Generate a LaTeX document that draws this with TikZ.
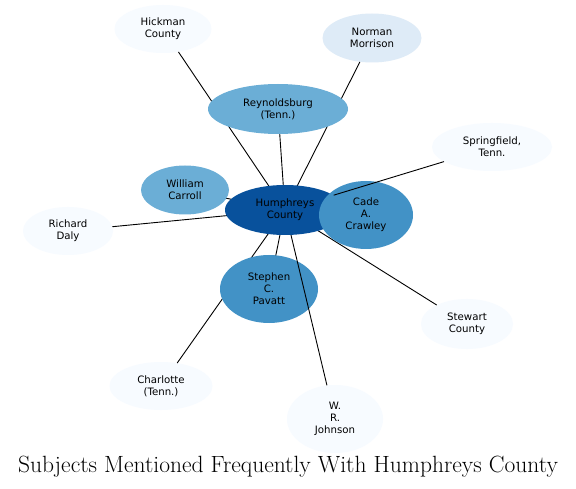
\documentclass[tikz,border=0pt]{standalone}
\usepackage{fontspec}
\newfontfamily\nodefont{DejaVu Sans}
\usetikzlibrary{shapes.geometric}
\definecolor{b1}{HTML}{F7FBFF}
\definecolor{b2}{HTML}{DEEBF7}
\definecolor{b5}{HTML}{6BAED6}
\definecolor{b6}{HTML}{4292C6}
\definecolor{b8}{HTML}{08519C}
\tikzset{
  ent/.style={ellipse, inner sep=0pt, align=center, text=black,
    font=\nodefont\fontsize{10.2}{12}\selectfont},
  edge/.style={draw=black, line width=0.9pt},
}
\newcommand{\ent}[7]{\node[ent, fill=#4, minimum width=#5pt, minimum height=#6pt] (#1) at (#2,#3) {#7};}
\begin{document}
\begin{tikzpicture}[x=1pt,y=-1pt]
\useasboundingbox (0,0) rectangle (576,489);
\fill[white] (0,0) rectangle (576,489);
\path
  coordinate (cH) at (285,210)
  coordinate (cRey) at (278,109)
  coordinate (cCar) at (185,190)
  coordinate (cPav) at (269,289);
% outer nodes
\ent{hick}{163}{29}{b1}{97}{48}{Hickman\\County}
\ent{norm}{372}{38}{b2}{99}{49}{Norman\\Morrison}
\ent{spr}{492}{147}{b1}{120}{48}{Springfield,\\Tenn.}
\ent{daly}{68}{231}{b1}{90}{48}{Richard\\Daly}
\ent{stew}{467}{324}{b1}{92}{50}{Stewart\\County}
\ent{char}{161}{386}{b1}{103}{48}{Charlotte\\(Tenn.)}
\ent{john}{335}{419}{b1}{96}{68}{W.\\R.\\Johnson}
% edges behind inner nodes
\path[edge] (hick) -- (cH);
\path[edge] (norm) -- (cH);
\path[edge] (daly) -- (cH);
\path[edge] (stew) -- (cH);
\path[edge] (char) -- (cH);
\path[edge] (cRey) -- (cH);
\path[edge] (cCar) -- (cH);
\path[edge] (cPav) -- (cH);
% inner nodes on top of edges
\ent{rey}{278}{109}{b5}{140}{50}{Reynoldsburg\\(Tenn.)}
\ent{car}{185}{190}{b5}{88}{49}{William\\Carroll}
\ent{pav}{269}{289}{b6}{98}{68}{Stephen\\C.\\Pavatt}
\ent{hum}{285}{210}{b8}{120}{50}{Humphreys\\County}
\ent{cade}{366}{215}{b6}{94}{68}{Cade\\A.\\Crawley}
\path[edge] (spr) -- (hum);
\path[edge] (john) -- (hum);
\node[font=\fontsize{23.5}{26}\selectfont, inner sep=0pt] (title) at (288,467) {Subjects Mentioned Frequently With Humphreys County};
\end{tikzpicture}
\end{document}
